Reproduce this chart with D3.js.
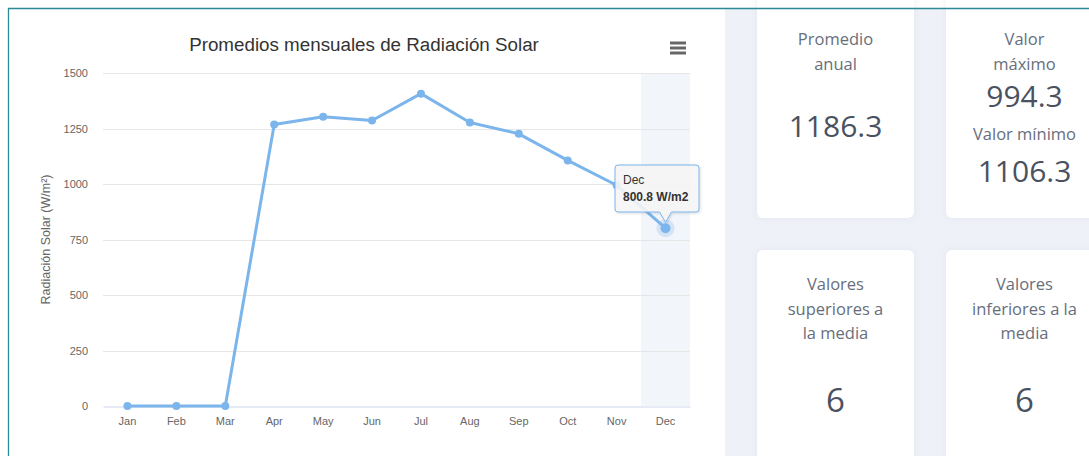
<!DOCTYPE html>
<html>
<head>
<meta charset="utf-8">
<script src="https://cdn.jsdelivr.net/npm/d3@7"></script>
<style>
  html, body { margin: 0; padding: 0; background: #ffffff; }
  svg { display: block; }
</style>
</head>
<body>
<svg id="c" width="1089" height="456"></svg>
<script>
// ---- data ----
const months = ["Jan","Feb","Mar","Apr","May","Jun","Jul","Aug","Sep","Oct","Nov","Dec"];
const radiation = [0, 0, 0, 1268, 1303, 1286, 1407, 1277, 1226, 1106.3, 994.3, 800.8];
const yTicks = [0, 250, 500, 750, 1000, 1250, 1500];
const chartTitle = "Promedios mensuales de Radiación Solar";
const yAxisTitle = "Radiación Solar (W/m²)";
const hoverIndex = 11;
const cardTexts = [
  { col: 0, row: 0, lines: ["Promedio", "anual"], value: "1186.3" },
  { col: 1, row: 0, lines: ["Valor", "máximo"], value: "994.3", extraLabel: "Valor mínimo", extraValue: "1106.3" },
  { col: 0, row: 1, lines: ["Valores", "superiores a", "la media"], value: "6" },
  { col: 1, row: 1, lines: ["Valores", "inferiores a la", "media"], value: "6" }
];

const svg = d3.select("#c");
const W = 1089, H = 456;

// ---- page frame ----
svg.append("rect").attr("x", 0).attr("y", 0).attr("width", W).attr("height", H).attr("fill", "#ffffff");
// right dashboard background
svg.append("rect").attr("x", 725).attr("y", 9).attr("width", W - 725).attr("height", H - 9).attr("fill", "#eff1f8");

const defs = svg.append("defs");
const f = defs.append("filter").attr("id", "cardShadow").attr("x", "-20%").attr("y", "-20%").attr("width", "140%").attr("height", "140%");
f.append("feDropShadow").attr("dx", 0).attr("dy", 0).attr("stdDeviation", 4).attr("flood-color", "#c9cede").attr("flood-opacity", 0.35);
const tf = defs.append("filter").attr("id", "tipShadow").attr("x", "-20%").attr("y", "-20%").attr("width", "150%").attr("height", "150%");
tf.append("feDropShadow").attr("dx", 1).attr("dy", 1).attr("stdDeviation", 1.2).attr("flood-color", "#000").attr("flood-opacity", 0.15);

// cards
const cardX = [757, 946], cardW = [157, 165];
const cardY = [-10, 250], cardH = [228, 230];
const cardLabelColor = "#676e7c", cardValueColor = "#4a5160";
cardTexts.forEach(c => {
  const x0 = cardX[c.col], w = cardW[c.col];
  svg.append("rect").attr("x", x0).attr("y", cardY[c.row]).attr("width", w).attr("height", cardH[c.row])
    .attr("rx", 6).attr("fill", "#ffffff").attr("filter", "url(#cardShadow)");
  const cx = x0 + 157 / 2;
  const baseY = c.row === 0 ? 45 : 290;
  c.lines.forEach((t, i) => {
    svg.append("text").attr("x", cx).attr("y", baseY + i * 24.5).attr("text-anchor", "middle")
      .attr("font-family", "'Open Sans', sans-serif").attr("font-size", 16.5).attr("fill", cardLabelColor).text(t);
  });
  let valY;
  if (c.row === 0 && !c.extraLabel) valY = 137;
  else if (c.row === 0) valY = 107;
  else valY = 412;
  svg.append("text").attr("x", cx).attr("y", valY).attr("text-anchor", "middle")
    .attr("font-family", "'Open Sans', sans-serif").attr("font-size", c.row === 0 ? 30 : 33)
    .attr("fill", cardValueColor).text(c.value);
  if (c.extraLabel) {
    svg.append("text").attr("x", cx).attr("y", 140).attr("text-anchor", "middle")
      .attr("font-family", "'Open Sans', sans-serif").attr("font-size", 16.5).attr("fill", cardLabelColor).text(c.extraLabel);
    svg.append("text").attr("x", cx).attr("y", 182).attr("text-anchor", "middle")
      .attr("font-family", "'Open Sans', sans-serif").attr("font-size", 30)
      .attr("fill", cardValueColor).text(c.extraValue);
  }
});

// teal frame lines
svg.append("line").attr("x1", 8).attr("x2", W).attr("y1", 8.5).attr("y2", 8.5).attr("stroke", "#2b8a96").attr("stroke-width", 1.3);
svg.append("line").attr("x1", 8.5).attr("x2", 8.5).attr("y1", 8).attr("y2", H).attr("stroke", "#2b8a96").attr("stroke-width", 1.3);

// ---- chart ----
const plotL = 103, plotR = 690, plotT = 73, plotB = 406;
const x = d3.scaleBand().domain(months).range([plotL, plotR]);
const y = d3.scaleLinear().domain([0, 1500]).range([plotB, plotT]);
const font = "'Liberation Sans', Arial, sans-serif";

// crosshair band
svg.append("rect").attr("x", x(months[hoverIndex])).attr("y", plotT)
  .attr("width", x.bandwidth()).attr("height", plotB - plotT).attr("fill", "rgba(204,214,235,0.25)");

// grid
svg.append("g").selectAll("line").data(yTicks.filter(d => d !== 0)).join("line")
  .attr("x1", plotL).attr("x2", plotR).attr("y1", d => Math.round(y(d)) + 0.5).attr("y2", d => Math.round(y(d)) + 0.5)
  .attr("stroke", "#e6e6e6").attr("stroke-width", 1);

// y axis
const yAxis = svg.append("g").attr("transform", `translate(${plotL},0)`)
  .call(d3.axisLeft(y).tickValues(yTicks).tickSize(0).tickPadding(15).tickFormat(d3.format("d")));
yAxis.select(".domain").remove();
yAxis.selectAll("text").attr("font-family", font).attr("font-size", 11).attr("fill", "#666666");

// x axis
const xAxis = svg.append("g").attr("transform", `translate(0,${Math.round(plotB) + 0.5})`)
  .call(d3.axisBottom(x).tickSize(0).tickPadding(11));
xAxis.select(".domain").attr("stroke", "#ccd6eb");
xAxis.selectAll("text").attr("font-family", font).attr("font-size", 11).attr("fill", "#666666");

// titles
svg.append("text").attr("x", 364).attr("y", 51).attr("text-anchor", "middle")
  .attr("font-family", font).attr("font-size", 18.8).attr("fill", "#333333").text(chartTitle);
svg.append("text").attr("transform", `translate(50,${(plotT + plotB) / 2}) rotate(-90)`).attr("text-anchor", "middle")
  .attr("font-family", font).attr("font-size", 12.5).attr("fill", "#666666").text(yAxisTitle);

// hamburger menu
[43, 48, 53].forEach(yy => {
  svg.append("line").attr("x1", 670).attr("x2", 686).attr("y1", yy).attr("y2", yy)
    .attr("stroke", "#666666").attr("stroke-width", 3);
});

// line
const cx = (d, i) => x(months[i]) + x.bandwidth() / 2;
const line = d3.line().x((d, i) => cx(d, i)).y(d => y(d));
svg.append("path").datum(radiation).attr("d", line).attr("fill", "none")
  .attr("stroke", "#7cb5ec").attr("stroke-width", 3).attr("stroke-linejoin", "round").attr("stroke-linecap", "round");

// markers
svg.append("g").selectAll("circle").data(radiation).join("circle")
  .attr("cx", (d, i) => cx(d, i)).attr("cy", d => y(d))
  .attr("r", (d, i) => i === hoverIndex ? 0 : 4).attr("fill", "#7cb5ec");
// hover halo + marker
const hv = radiation[hoverIndex];
svg.append("circle").attr("cx", cx(hv, hoverIndex)).attr("cy", y(hv)).attr("r", 9).attr("fill", "#7cb5ec").attr("fill-opacity", 0.25);
svg.append("circle").attr("cx", cx(hv, hoverIndex)).attr("cy", y(hv)).attr("r", 5).attr("fill", "#7cb5ec");

// tooltip
const tipX = 615, tipY = 165, tipW = 84, tipH = 47;
const px = cx(hv, hoverIndex), py = y(hv) - 6;
const tipPath = `M${tipX + 3},${tipY} L${tipX + tipW - 3},${tipY} Q${tipX + tipW},${tipY} ${tipX + tipW},${tipY + 3}
  L${tipX + tipW},${tipY + tipH - 3} Q${tipX + tipW},${tipY + tipH} ${tipX + tipW - 3},${tipY + tipH}
  L${px + 6},${tipY + tipH} L${px},${py} L${px - 6},${tipY + tipH}
  L${tipX + 3},${tipY + tipH} Q${tipX},${tipY + tipH} ${tipX},${tipY + tipH - 3}
  L${tipX},${tipY + 3} Q${tipX},${tipY} ${tipX + 3},${tipY} Z`;
svg.append("path").attr("d", tipPath).attr("fill", "rgba(247,247,247,0.88)")
  .attr("stroke", "#7cb5ec").attr("stroke-width", 1).attr("filter", "url(#tipShadow)");
svg.append("text").attr("x", tipX + 8).attr("y", tipY + 19).attr("font-family", font).attr("font-size", 12)
  .attr("fill", "#333333").text(months[hoverIndex]);
svg.append("text").attr("x", tipX + 8).attr("y", tipY + 36).attr("font-family", font).attr("font-size", 12)
  .attr("font-weight", "bold").attr("fill", "#333333").text(`${hv} W/m2`);
</script>
</body>
</html>
